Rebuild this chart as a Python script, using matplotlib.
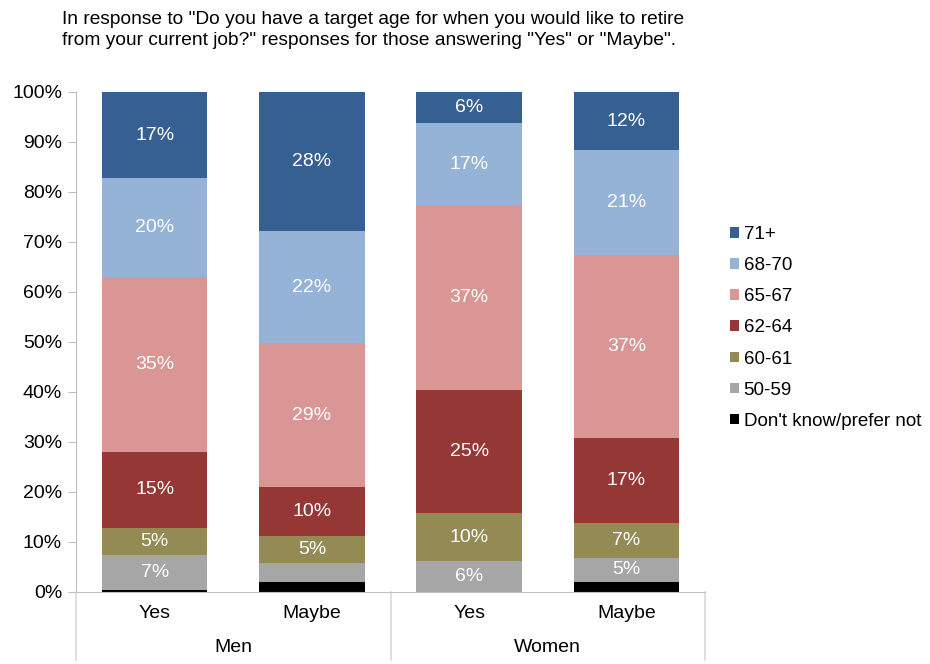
import numpy as np
import matplotlib.pyplot as plt

plt.rcParams['font.family'] = ['Liberation Sans', 'DejaVu Sans']

groups = ['Men', 'Women']
answers = ['Yes', 'Maybe', 'Yes', 'Maybe']
series = ["Don't know/prefer not", '50-59', '60-61', '62-64', '65-67', '68-70', '71+']
colors = ['#000000', '#A6A6A6', '#948A54', '#953735', '#D99694', '#95B3D7', '#376092']

dont_know = [0.4, 2.0, 0.0, 2.0]
age_50_59 = [7.0, 3.8, 6.2, 4.8]
age_60_61 = [5.4, 5.4, 9.6, 7.0]
age_62_64 = [15.2, 9.8, 24.6, 17.0]
age_65_67 = [35.0, 28.8, 36.8, 36.6]
age_68_70 = [19.8, 22.4, 16.6, 21.0]
age_71 = [17.2, 27.8, 6.2, 11.6]
values = [dont_know, age_50_59, age_60_61, age_62_64, age_65_67, age_68_70, age_71]

fs = 14

fig = plt.figure(figsize=(9.3, 6.64), dpi=100)
ax = fig.add_axes([76/930, 1 - 592/664, (705-76)/930, 500/664])

x = np.arange(len(answers))
bottom = np.zeros(len(answers))
for name, vals, c in zip(series, values, colors):
    vals = np.array(vals)
    ax.bar(x, vals, 0.67, bottom=bottom, color=c, label=name)
    for xi, v, b in zip(x, vals, bottom):
        if v >= 4.5:
            ax.text(xi, b + v / 2, f'{round(v):.0f}%', ha='center', va='center',
                    color='white', fontsize=fs)
    bottom += vals

ax.set_xlim(-0.5, 3.5)
ax.set_ylim(0, 100)
ax.set_yticks(np.arange(0, 101, 10))
ax.set_yticklabels([f'{t}%' for t in range(0, 101, 10)], fontsize=fs)
ax.set_xticks([])
for s in ['top', 'right']:
    ax.spines[s].set_visible(False)
ax.spines['left'].set_color('#BFBFBF')
ax.spines['bottom'].set_color('#BFBFBF')
ax.tick_params(axis='y', color='#BFBFBF', length=6, pad=4)

# category and group labels
for xi, a in zip(x, answers):
    ax.text(xi, -4.4, a, ha='center', va='center', fontsize=fs, clip_on=False)
for gi, g in enumerate(groups):
    ax.text(0.5 + 2 * gi, -11.2, g, ha='center', va='center', fontsize=fs, clip_on=False)
for xb in [-0.5, 1.5, 3.5]:
    ax.plot([xb, xb], [0, -13.6], color='#D9D9D9', lw=1.2, clip_on=False)

h, l = ax.get_legend_handles_labels()
fig.legend(h[::-1], l[::-1], loc='center left', bbox_to_anchor=(722/930, 1 - 328/664),
           frameon=False, fontsize=13.5, handlelength=0.5, handleheight=0.5,
           handletextpad=0.25, labelspacing=0.75, borderaxespad=0, borderpad=0.4)

fig.text(62/930, 1 - 30/664,
         'In response to "Do you have a target age for when you would like to retire\n'
         'from your current job?" responses for those answering "Yes" or "Maybe".',
         ha='left', va='center', fontsize=13.8, linespacing=1.35)

fig.savefig('out.png', dpi=100)
